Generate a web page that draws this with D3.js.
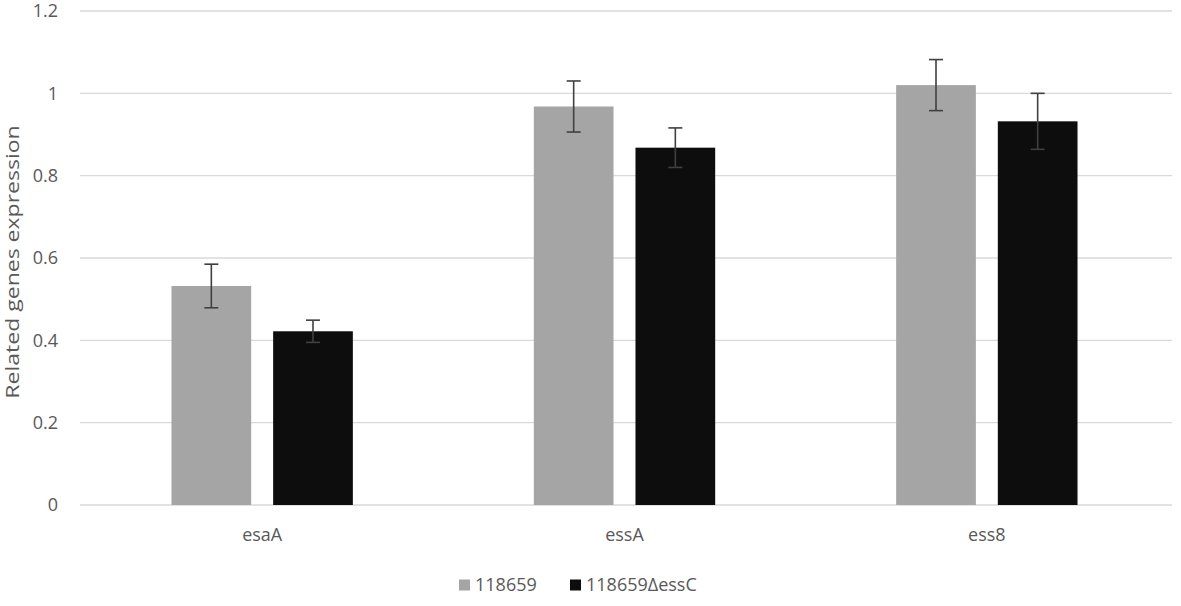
<html>
<head>
<script src="https://cdn.jsdelivr.net/npm/d3@7"></script>
<style>
  body { margin: 0; background: #fff; }
  text { font-family: "Open Sans", "Noto Sans", sans-serif; fill: #595959; }
</style>
</head>
<body>
<svg id="chart" width="1181" height="606"></svg>
<script>
var genes = ["esaA", "essA", "ess8"];
var seriesNames = ["118659", "118659\u0394essC"];
var wildValues = [0.532, 0.968, 1.020];
var wildErrors = [0.053, 0.062, 0.062];
var mutantValues = [0.422, 0.868, 0.932];
var mutantErrors = [0.027, 0.048, 0.068];
var yTicks = [0, 0.2, 0.4, 0.6, 0.8, 1, 1.2];
var colors = ["#a5a5a5", "#0d0d0d"];

var svg = d3.select("#chart");
var plotLeft = 80, plotRight = 1172, plotTop = 11, plotBottom = 505;

var x = d3.scaleBand().domain(genes).range([81, 1168]);
var inner = d3.scaleBand().domain(seriesNames).range([0, x.bandwidth()]).paddingInner(0.216).paddingOuter(0.89);
var y = d3.scaleLinear().domain([0, 1.2]).range([plotBottom, plotTop]);

// gridlines
svg.append("g").selectAll("line").data(yTicks).enter().append("line")
  .attr("x1", plotLeft).attr("x2", plotRight)
  .attr("y1", d => y(d)).attr("y2", d => y(d))
  .attr("stroke", "#d9d9d9").attr("stroke-width", 1.3);

// y labels
svg.append("g").selectAll("text").data(yTicks).enter().append("text")
  .attr("x", 58).attr("y", d => y(d)).attr("dy", "0.35em")
  .attr("text-anchor", "end").style("font-size", "18px")
  .text(d => d);

svg.append("text")
  .attr("transform", "translate(19,262) rotate(-90) scale(1.28,1)")
  .attr("text-anchor", "middle").style("font-size", "18px")
  .text("Related genes expression");

var rows = [];
genes.forEach(function (g, i) {
  rows.push({ gene: g, s: seriesNames[0], v: wildValues[i], e: wildErrors[i], c: colors[0] });
  rows.push({ gene: g, s: seriesNames[1], v: mutantValues[i], e: mutantErrors[i], c: colors[1] });
});

svg.append("g").selectAll("rect").data(rows).enter().append("rect")
  .attr("x", d => x(d.gene) + inner(d.s))
  .attr("width", inner.bandwidth())
  .attr("y", d => y(d.v))
  .attr("height", d => y(0) - y(d.v))
  .attr("fill", d => d.c);

// error bars
var cx = d => x(d.gene) + inner(d.s) + inner.bandwidth() / 2;
var eb = svg.append("g").selectAll("g").data(rows).enter().append("g")
  .attr("stroke", "#404040").attr("stroke-width", 1.6);
eb.append("line")
  .attr("x1", cx).attr("x2", cx)
  .attr("y1", d => y(d.v + d.e)).attr("y2", d => y(d.v - d.e));
[1, -1].forEach(function (sgn) {
  eb.append("line")
    .attr("x1", d => cx(d) - 7).attr("x2", d => cx(d) + 7)
    .attr("y1", d => y(d.v + sgn * d.e)).attr("y2", d => y(d.v + sgn * d.e));
});

// x axis labels
svg.append("g").selectAll("text").data(genes).enter().append("text")
  .attr("x", d => x(d) + x.bandwidth() / 2).attr("y", 541)
  .attr("text-anchor", "middle").style("font-size", "18px")
  .text(d => d);

// legend
var legX = [459, 570];
var leg = svg.append("g").selectAll("g").data(seriesNames).enter().append("g")
  .attr("transform", (d, i) => "translate(" + legX[i] + ",585)");
leg.append("rect").attr("x", 0).attr("y", -5.5).attr("width", 11).attr("height", 11)
  .attr("fill", (d, i) => colors[i]);
leg.append("text").attr("x", 16).attr("dy", "0.35em").style("font-size", "18px")
  .text(d => d);
</script>
</body>
</html>
